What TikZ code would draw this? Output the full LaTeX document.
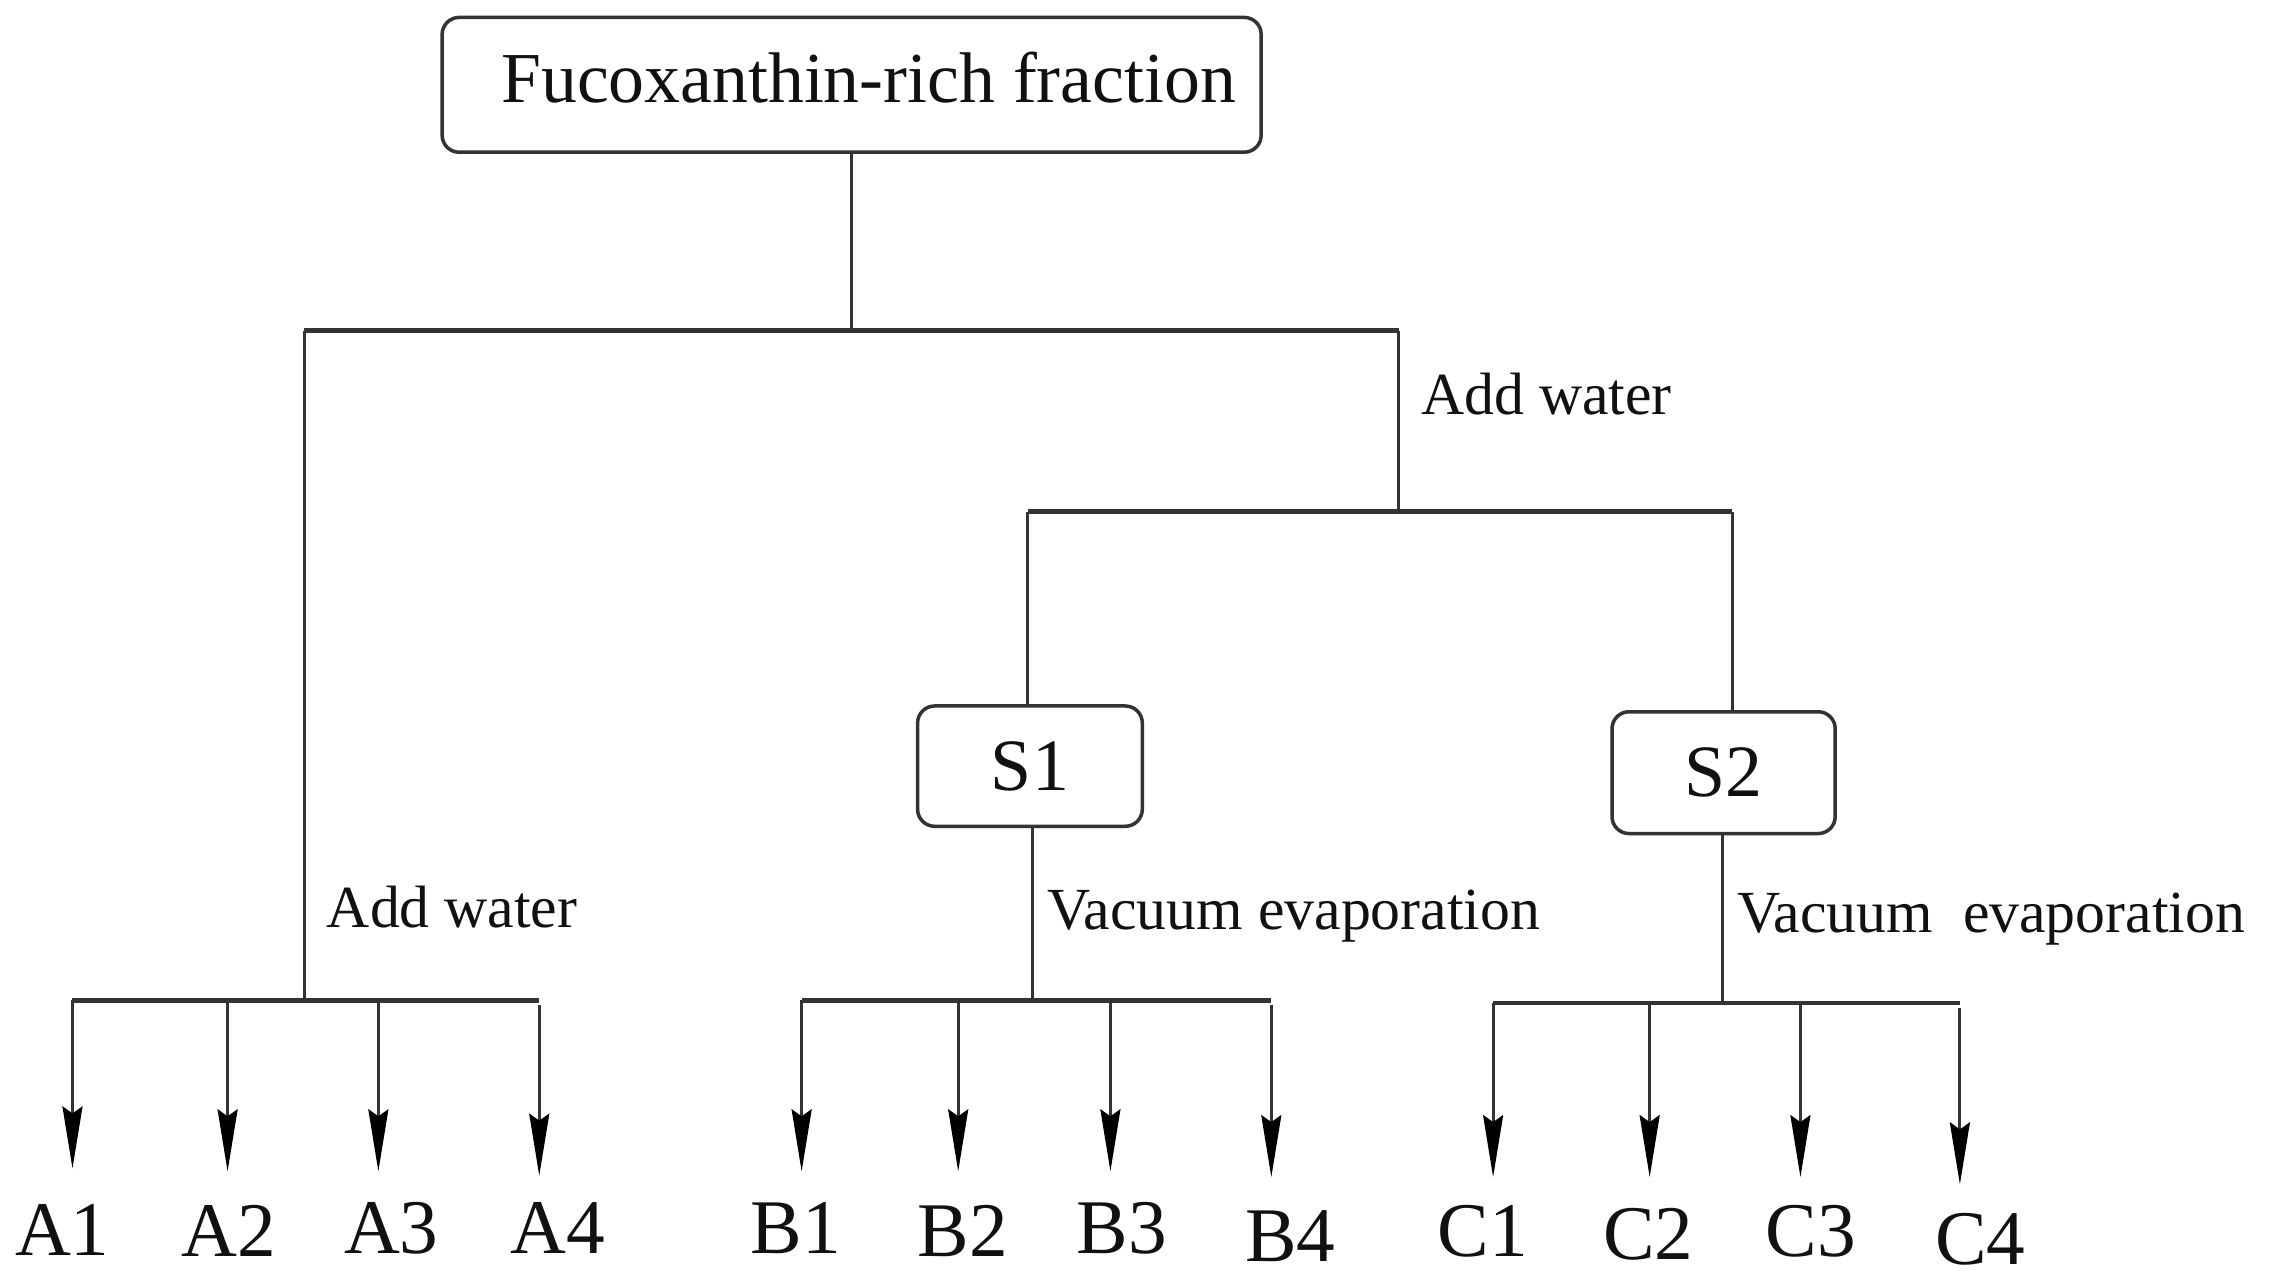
\documentclass[tikz,border=0pt]{standalone}
\usepackage{fontspec}
\setmainfont{Liberation Serif}
\usetikzlibrary{arrows.meta}
\definecolor{lncol}{HTML}{333333}
\definecolor{txtcol}{HTML}{111111}
\begin{document}
\begin{tikzpicture}[x=0.014496cm, y=-0.014496cm,
  ln/.style={draw=lncol, line width=0.85pt},
  hln/.style={draw=lncol, line width=1.3pt},
  arr/.style={draw=lncol, line width=0.85pt, -{Stealth[length=0.62cm, width=0.2cm, inset=0.07cm, color=black]}},
  box/.style={draw=lncol, line width=1pt, rounded corners=0.17cm, inner sep=0pt, fill=white, text=txtcol},
  lbl/.style={font=\fontsize{22}{26}\selectfont, inner sep=0pt, anchor=base, text=txtcol},
  note/.style={font=\fontsize{17}{20}\selectfont, inner sep=0pt, anchor=base west, text=txtcol}]
\useasboundingbox (0,0) rectangle (1568,883);

% boxes
\node[box, minimum width=8.19cm, minimum height=1.348cm, font=\fontsize{20.4}{24}\selectfont] (top) at (587.5,58.5) {\hspace*{0.34cm}\raisebox{0.16cm}{Fucoxanthin-rich fraction}};
\node[box, minimum width=2.247cm, minimum height=1.203cm, font=\fontsize{21}{25}\selectfont] (S1) at (710.5,528.5) {S1};
\node[box, minimum width=2.232cm, minimum height=1.218cm, font=\fontsize{21}{25}\selectfont] (S2) at (1189,533) {S2};

% junctions
\coordinate (jL) at (210,228);
\coordinate (jR) at (965,228);
\coordinate (kL) at (709,353);
\coordinate (kR) at (1195,353);
\coordinate (aJ) at (210,690);
\coordinate (bJ) at (712,690);
\coordinate (cJ) at (1188,692);

% top tree
\draw[ln] (top.south) -- (top.south |- jL);
\draw[hln] (jL) -- (jR);
\draw[ln] (jL) -- (aJ);
\draw[ln] (jR) -- (jR |- kL);
\draw[hln] (kL) -- (kR);
\draw[ln] (kL) -- (kL |- S1.north);
\draw[ln] (kR) -- (kR |- S2.north);
\draw[ln] (S1.south -| bJ) -- (bJ);
\draw[ln] (S2.south -| cJ) -- (cJ);

% notes
\node[note] (nw1) at (980,286) {Add water};
\node[note] (nw2) at (225,640) {Add water};
\node[note] (nv1) at (722,641) {Vacuum evaporation};
\node[note] (nv2) at (1198,643) {Vacuum\ \ evaporation};

% branch lines
\draw[hln] (50,690) coordinate (a1) -- (372,690) coordinate (a4e);
\draw[hln] (553,690) coordinate (b1) -- (877,690) coordinate (b4e);
\draw[hln] (1030,692) coordinate (c1) -- (1352,692) coordinate (c4e);

\coordinate (a2) at (157,690); \coordinate (a3) at (261,690); \coordinate (a4) at (372,693);
\coordinate (b2) at (661,690); \coordinate (b3) at (766,690); \coordinate (b4) at (877,693);
\coordinate (c2) at (1138,692); \coordinate (c3) at (1242,692); \coordinate (c4) at (1352,695);

% tips
\coordinate (ta1) at (50,806);  \coordinate (ta2) at (157,808); \coordinate (ta3) at (261,808); \coordinate (ta4) at (372,811);
\coordinate (tb1) at (553,808); \coordinate (tb2) at (661,808); \coordinate (tb3) at (766,808); \coordinate (tb4) at (877,812);
\coordinate (tc1) at (1030,812); \coordinate (tc2) at (1138,812); \coordinate (tc3) at (1242,812); \coordinate (tc4) at (1352,817);

\foreach \p in {a1,a2,a3,a4,b1,b2,b3,b4,c1,c2,c3,c4} \draw[arr] (\p) -- (t\p);

% labels
\node[lbl] (A1) at (43,866) {A1};
\node[lbl] (A2) at (158,867) {A2};
\node[lbl] (A3) at (270,865) {A3};
\node[lbl] (A4) at (385,865) {A4};
\node[lbl] (B1) at (549,865) {B1};
\node[lbl] (B2) at (664,867) {B2};
\node[lbl] (B3) at (774,865) {B3};
\node[lbl] (B4) at (890,870) {B4};
\node[lbl] (C1) at (1023,867) {C1};
\node[lbl] (C2) at (1137,869) {C2};
\node[lbl] (C3) at (1249,867) {C3};
\node[lbl] (C4) at (1366,872) {C4};
\end{tikzpicture}
\end{document}
